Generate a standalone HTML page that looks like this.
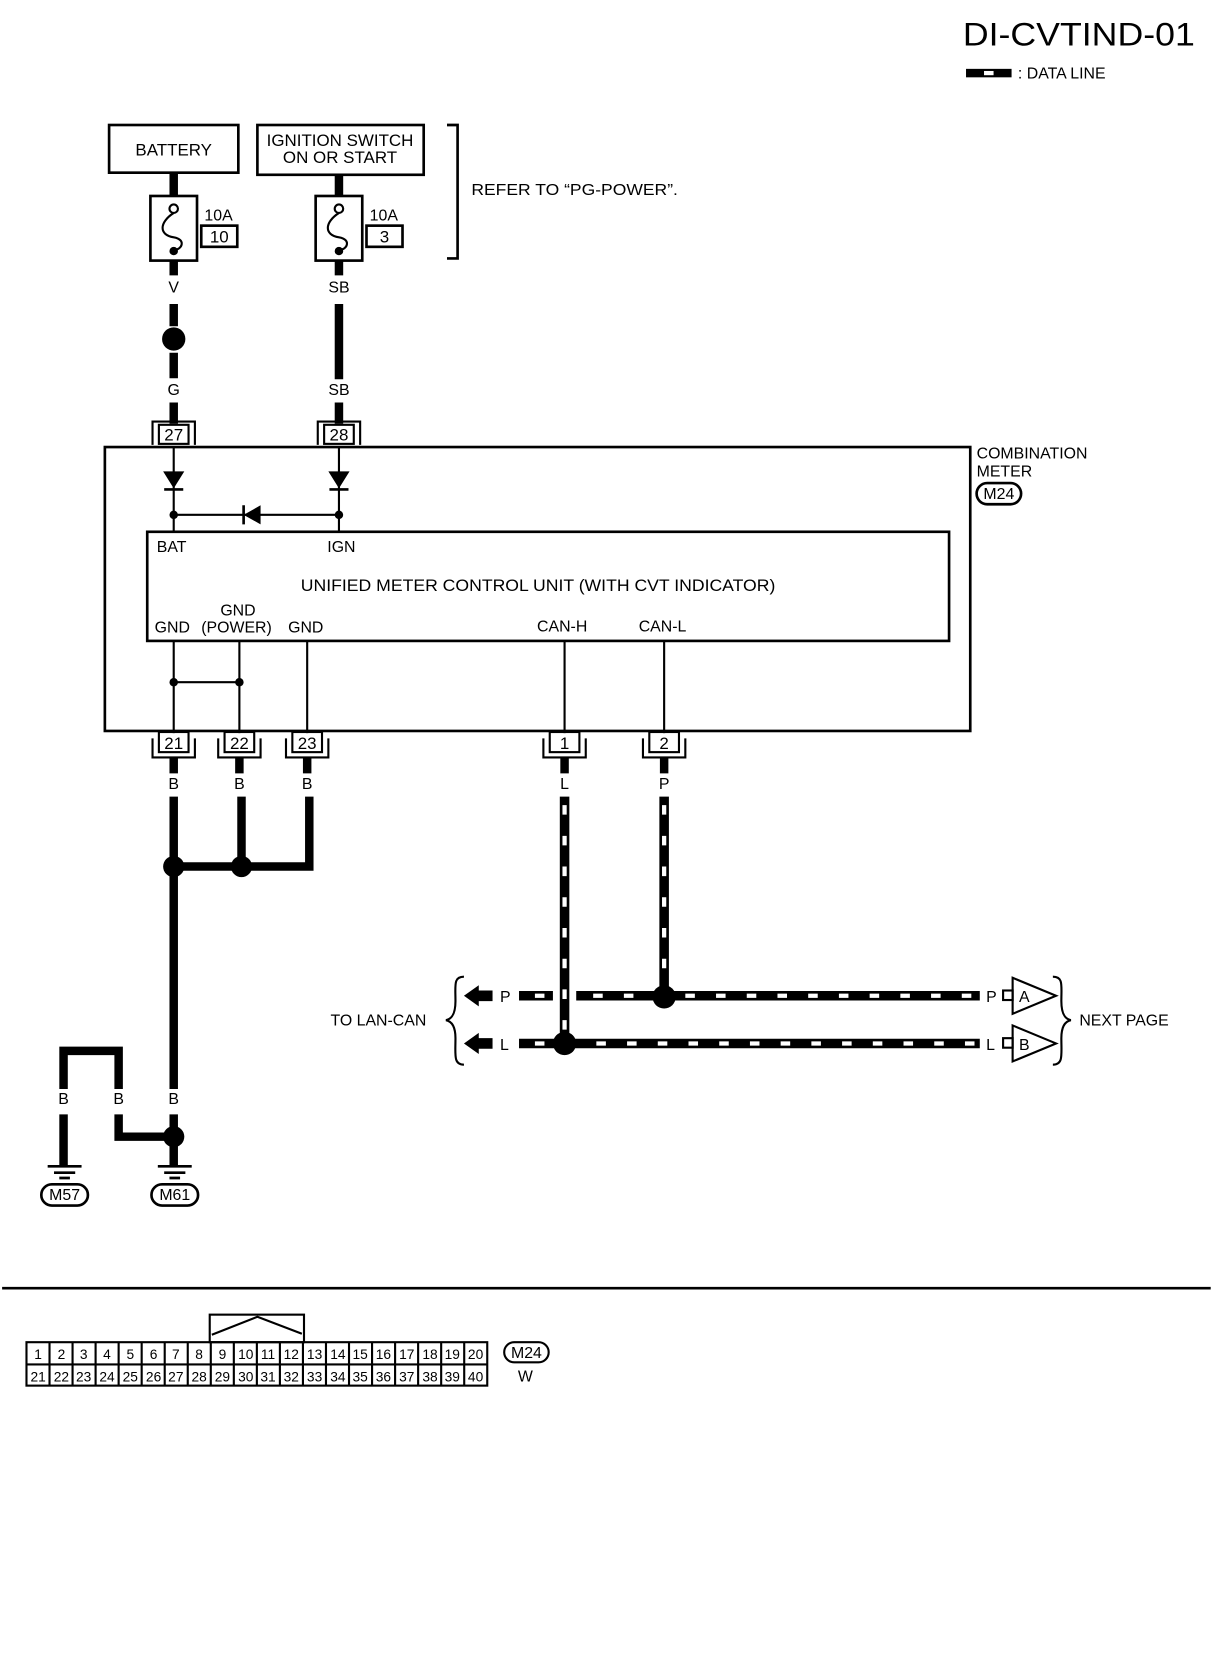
<!DOCTYPE html>
<html><head><meta charset="utf-8"><style>
html,body{margin:0;padding:0;background:#fff;}
svg{display:block;}
text{font-family:"Liberation Sans",sans-serif;fill:#000;}
</style></head><body>
<svg width="1216" height="1660" viewBox="0 0 1148 1567" preserveAspectRatio="none" xmlns="http://www.w3.org/2000/svg">
<rect x="0" y="0" width="1148" height="1567" fill="#fff"/>
<text x="909" y="43" font-size="31" textLength="219" lengthAdjust="spacingAndGlyphs">DI-CVTIND-01</text>
<rect x="912" y="65" width="43" height="8" fill="#000"/>
<rect x="929" y="67" width="9" height="4" fill="#fff"/>
<text x="961" y="74" font-size="15">: DATA LINE</text>

<g stroke="#000" fill="none" stroke-width="2.5">
<rect x="103" y="118" width="122" height="45"/>
<rect x="243" y="118" width="157" height="47"/>
<path d="M422 118 H432 V244 H422"/>
<rect x="142" y="185" width="44" height="61"/>
<rect x="298" y="185" width="44" height="61"/>
<rect x="190" y="213" width="34" height="20"/>
<rect x="346" y="213" width="34" height="20"/>
<rect x="99" y="422" width="817" height="268"/>
<rect x="139" y="502" width="757" height="103"/>
</g>
<text x="164" y="147" font-size="16" text-anchor="middle">BATTERY</text>
<text x="321" y="138" font-size="16" text-anchor="middle">IGNITION SWITCH</text>
<text x="321" y="154" font-size="16" text-anchor="middle">ON OR START</text>
<text x="445" y="184" font-size="15" textLength="195" lengthAdjust="spacingAndGlyphs">REFER TO “PG-POWER”.</text>
<g stroke="#000" stroke-width="2" fill="none">
<circle cx="164" cy="197" r="4"/><path d="M164 201 C150 210,150 222,164 224 C176 226,172 236,164 236"/>
<circle cx="320" cy="197" r="4"/><path d="M320 201 C306 210,306 222,320 224 C332 226,328 236,320 236"/>
</g>
<circle cx="164" cy="237" r="4"/><circle cx="320" cy="237" r="4"/>
<text x="193" y="208" font-size="15">10A</text><text x="207" y="229" font-size="16" text-anchor="middle">10</text>
<text x="349" y="208" font-size="15">10A</text><text x="363" y="229" font-size="16" text-anchor="middle">3</text>

<g stroke="#000" stroke-width="8">
<path d="M164 163 V185 M164 246 V260 M164 287 V308 M164 333 V357 M164 380 V400"/>
<path d="M320 165 V185 M320 246 V260 M320 287 V358 M320 380 V400"/>
</g>
<circle cx="164" cy="320" r="11"/>
<g font-size="15" text-anchor="middle">
<text x="164" y="276">V</text><text x="164" y="373">G</text>
<text x="320" y="276">SB</text><text x="320" y="373">SB</text>
</g>
<g stroke="#000" stroke-width="2" fill="none">
<rect x="150" y="401" width="28" height="18"/><path d="M144 420 V398 H184 V420"/>
<rect x="306" y="401" width="28" height="18"/><path d="M300 420 V398 H340 V420"/>
</g>
<text x="164" y="416" font-size="16" text-anchor="middle">27</text>
<text x="320" y="416" font-size="16" text-anchor="middle">28</text>

<g stroke="#000" stroke-width="2">
<path d="M164 422 V502 M320 422 V502 M164 486 H320"/>
<path d="M155 462 H173 M311 462 H329 M230 477 V495" stroke-width="2.5"/>
</g>
<path d="M154 445 H174 L164 461 Z M310 445 H330 L320 461 Z M230 486 L246 477 V495 Z"/>
<circle cx="164" cy="486" r="4"/><circle cx="320" cy="486" r="4"/>

<g font-size="15">
<text x="148" y="521">BAT</text><text x="309" y="521">IGN</text>
<text x="508" y="558" text-anchor="middle" font-size="16" textLength="448" lengthAdjust="spacingAndGlyphs">UNIFIED METER CONTROL UNIT (WITH CVT INDICATOR)</text>
<text x="146" y="597">GND</text><text x="208" y="581">GND</text><text x="190" y="597">(POWER)</text><text x="272" y="597">GND</text>
<text x="507" y="596">CAN-H</text><text x="603" y="596">CAN-L</text>
<text x="922" y="433">COMBINATION</text><text x="922" y="450">METER</text>
</g>
<rect x="922" y="456" width="42" height="20" rx="10" fill="none" stroke="#000" stroke-width="2.5"/>
<text x="943" y="471" font-size="15" text-anchor="middle">M24</text>

<g stroke="#000" stroke-width="2">
<path d="M164 605 V692 M226 605 V692 M290 605 V692 M533 605 V692 M627 605 V692 M164 644 H226"/>
</g>
<circle cx="164" cy="644" r="4"/><circle cx="226" cy="644" r="4"/>
<g stroke="#000" stroke-width="2" fill="none">
<rect x="150" y="691" width="28" height="19"/><path d="M144 697 V715 H184 V697"/>
<rect x="212" y="691" width="28" height="19"/><path d="M206 697 V715 H246 V697"/>
<rect x="276" y="691" width="28" height="19"/><path d="M270 697 V715 H310 V697"/>
<rect x="519" y="691" width="28" height="19"/><path d="M513 697 V715 H553 V697"/>
<rect x="613" y="691" width="28" height="19"/><path d="M607 697 V715 H647 V697"/>
</g>
<g font-size="16" text-anchor="middle">
<text x="164" y="707">21</text><text x="226" y="707">22</text><text x="290" y="707">23</text>
<text x="533" y="707">1</text><text x="627" y="707">2</text>
</g>
<g font-size="15" text-anchor="middle">
<text x="164" y="745">B</text><text x="226" y="745">B</text><text x="290" y="745">B</text>
<text x="533" y="745">L</text><text x="627" y="745">P</text>
</g>
<g stroke="#000" stroke-width="8" fill="none">
<path d="M164 715 V730 M226 715 V730 M290 715 V730 M533 715 V730 M627 715 V730"/>
<path d="M164 752 V1028 M228 752 V818 M292 752 V818 H236 M164 818 H228"/>
<path d="M60 1028 V992 H112 V1028"/>
<path d="M60 1052 V1100 M112 1052 V1073 H160 M164 1052 V1100"/>
</g>
<circle cx="164" cy="818" r="10"/><circle cx="228" cy="818" r="10"/>
<circle cx="164" cy="1073" r="10"/>
<g font-size="15" text-anchor="middle">
<text x="60" y="1042">B</text><text x="112" y="1042">B</text><text x="164" y="1042">B</text>
</g>
<g stroke="#000" stroke-width="2.5">
<path d="M45 1101 H77 M51 1107 H71 M56 1112 H66 M149 1101 H181 M155 1107 H175 M160 1112 H170"/>
</g>
<g fill="none" stroke="#000" stroke-width="2.5">
<rect x="39" y="1118" width="44" height="20" rx="10"/><rect x="143" y="1118" width="44" height="20" rx="10"/>
</g>
<text x="61" y="1133" font-size="15" text-anchor="middle">M57</text>
<text x="165" y="1133" font-size="15" text-anchor="middle">M61</text>

<g stroke="#000" stroke-width="9" fill="none">
<path d="M533 752 V978 M627 752 V935"/>
<path d="M490 940 H522 M544 940 H925 M490 985 H925"/>
</g>
<g stroke="#fff" stroke-width="4" fill="none" stroke-dasharray="9 20">
<path d="M533 760 V978 M627 760 V935"/>
<path d="M505 940 H522 M560 940 H925 M505 985 H925"/>
</g>
<circle cx="627" cy="941" r="11"/><circle cx="533" cy="985" r="11"/>
<path d="M438 940 L452 930 V935 H465 V945 H452 V950 Z M438 985 L452 975 V980 H465 V990 H452 V995 Z"/>
<g font-size="15">
<text x="472" y="946">P</text><text x="472" y="991">L</text>
<text x="312" y="968">TO LAN-CAN</text>
<text x="931" y="946">P</text><text x="931" y="991">L</text>
<text x="1019" y="968">NEXT PAGE</text>
</g>
<g fill="none" stroke="#000" stroke-width="2">
<path d="M438 922 C428 922,430 930,430 945 C430 958,426 962,421 963 C426 964,430 968,430 980 C430 996,428 1005,438 1005"/>
<path d="M994 922 C1004 922,1002 930,1002 945 C1002 958,1006 962,1011 963 C1006 964,1002 968,1002 980 C1002 996,1004 1005,994 1005"/>
<rect x="947" y="935" width="9" height="9"/><rect x="947" y="980" width="9" height="9"/>
<path d="M956 923 L997 940 L956 957 Z M956 968 L997 985 L956 1002 Z"/>
</g>
<text x="962" y="946" font-size="15">A</text><text x="962" y="991" font-size="15">B</text>

<path d="M2 1216 H1143" stroke="#000" stroke-width="2.5"/>
<g fill="none" stroke="#000" stroke-width="2">
<rect x="198" y="1241" width="89" height="26"/>
<path d="M200 1260 L243 1243 L285 1259"/>
<rect x="25" y="1267" width="435" height="41"/>
<path d="M25 1288 H460"/>
<path d="M46.75 1267V1308M68.5 1267V1308M90.25 1267V1308M112 1267V1308M133.75 1267V1308M155.5 1267V1308M177.25 1267V1308M199 1267V1308M220.75 1267V1308M242.5 1267V1308M264.25 1267V1308M286 1267V1308M307.75 1267V1308M329.5 1267V1308M351.25 1267V1308M373 1267V1308M394.75 1267V1308M416.5 1267V1308M438.25 1267V1308"/>
<rect x="476" y="1267" width="42" height="19" rx="9.5"/>
</g>
<g font-size="13" text-anchor="middle">
<text x="36" y="1283">1</text><text x="58" y="1283">2</text><text x="79" y="1283">3</text><text x="101" y="1283">4</text><text x="123" y="1283">5</text><text x="145" y="1283">6</text><text x="166" y="1283">7</text><text x="188" y="1283">8</text><text x="210" y="1283">9</text><text x="232" y="1283">10</text><text x="253" y="1283">11</text><text x="275" y="1283">12</text><text x="297" y="1283">13</text><text x="319" y="1283">14</text><text x="340" y="1283">15</text><text x="362" y="1283">16</text><text x="384" y="1283">17</text><text x="406" y="1283">18</text><text x="427" y="1283">19</text><text x="449" y="1283">20</text>
<text x="36" y="1304">21</text><text x="58" y="1304">22</text><text x="79" y="1304">23</text><text x="101" y="1304">24</text><text x="123" y="1304">25</text><text x="145" y="1304">26</text><text x="166" y="1304">27</text><text x="188" y="1304">28</text><text x="210" y="1304">29</text><text x="232" y="1304">30</text><text x="253" y="1304">31</text><text x="275" y="1304">32</text><text x="297" y="1304">33</text><text x="319" y="1304">34</text><text x="340" y="1304">35</text><text x="362" y="1304">36</text><text x="384" y="1304">37</text><text x="406" y="1304">38</text><text x="427" y="1304">39</text><text x="449" y="1304">40</text>
</g>
<text x="497" y="1282" font-size="15" text-anchor="middle">M24</text>
<text x="496" y="1304" font-size="15" text-anchor="middle">W</text>
</svg>
</body></html>
